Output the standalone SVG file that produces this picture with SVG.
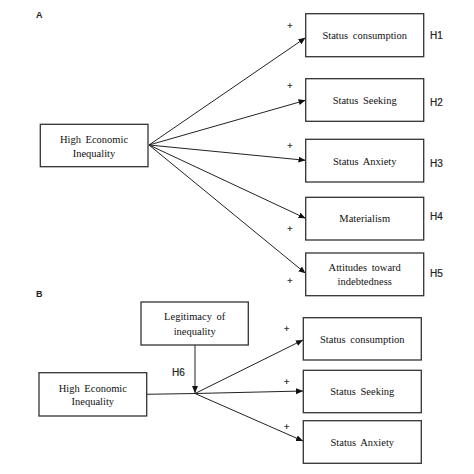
<svg xmlns="http://www.w3.org/2000/svg" width="474" height="474" viewBox="0 0 474 474">
<style>
.box{fill:#fff;stroke:#333;stroke-width:1.3}
.t{font-family:"Liberation Serif","Times New Roman",serif;font-size:10.5px;fill:#111;text-anchor:middle;word-spacing:2px}
.h{font-family:"Liberation Sans",Arial,sans-serif;font-size:10px;fill:#222;stroke:#222;stroke-width:0.2}
.p{font-family:"Liberation Sans",Arial,sans-serif;font-size:9px;fill:#222;text-anchor:middle;stroke:#222;stroke-width:0.2}
.lab{font-family:"Liberation Sans",Arial,sans-serif;font-size:9px;font-weight:bold;fill:#222}
.c line{stroke:#222;stroke-width:1}
</style>
<defs>
<marker id="ah" markerUnits="userSpaceOnUse" markerWidth="8" markerHeight="8" refX="7" refY="3" orient="auto">
<path d="M0,0 L7,3 L0,6 z" fill="#111"/>
</marker>
</defs>
<rect width="474" height="474" fill="#fff"/>
<text class="lab" x="36" y="18">A</text>
<text class="lab" x="36" y="297">B</text>
<g id="connectors" class="c">
<line x1="149" y1="145" x2="305.5" y2="37.7" marker-end="url(#ah)"/>
<line x1="149" y1="145" x2="305.5" y2="100.3" marker-end="url(#ah)"/>
<line x1="149" y1="145" x2="305.5" y2="160.3" marker-end="url(#ah)"/>
<line x1="149" y1="145" x2="305.5" y2="218.3" marker-end="url(#ah)"/>
<line x1="149" y1="145" x2="305.5" y2="273.3" marker-end="url(#ah)"/>
<line x1="195" y1="345" x2="195" y2="393" marker-end="url(#ah)"/>
<line x1="146.7" y1="394.3" x2="195" y2="393.5"/>
<line x1="195" y1="393.5" x2="303" y2="340" marker-end="url(#ah)"/>
<line x1="195" y1="393.5" x2="303" y2="391" marker-end="url(#ah)"/>
<line x1="195" y1="393.5" x2="303" y2="441" marker-end="url(#ah)"/>
</g>
<g id="a_hei"><rect class="box" x="40.3" y="124.3" width="107.7" height="42.4"/><text class="t" x="94" y="142.5">High Economic</text><text class="t" x="94" y="156.5">Inequality</text></g>
<g id="a_sc"><rect class="box" x="305.7" y="13.7" width="118" height="43"/><text class="t" x="364.7" y="38.5">Status consumption</text></g>
<g id="a_ss"><rect class="box" x="305.7" y="78.7" width="118" height="42.6"/><text class="t" x="364.7" y="103.5">Status Seeking</text></g>
<g id="a_sa"><rect class="box" x="305.7" y="139.3" width="118" height="42.7"/><text class="t" x="364.7" y="164.5">Status Anxiety</text></g>
<g id="a_mat"><rect class="box" x="305.7" y="197.3" width="118" height="42.7"/><text class="t" x="364.7" y="221.5">Materialism</text></g>
<g id="a_att"><rect class="box" x="305.7" y="253" width="118" height="42.7"/><text class="t" x="364.7" y="271.2">Attitudes toward</text><text class="t" x="364.7" y="285.2">indebtedness</text></g>
<text class="h" x="430" y="38.5">H1</text>
<text class="h" x="430" y="106">H2</text>
<text class="h" x="430" y="166.5">H3</text>
<text class="h" x="430" y="219.5">H4</text>
<text class="h" x="430" y="277">H5</text>
<text class="p" x="290" y="28.5">+</text>
<text class="p" x="290" y="89">+</text>
<text class="p" x="290" y="149">+</text>
<text class="p" x="290" y="232">+</text>
<text class="p" x="290" y="284">+</text>
<g id="b_leg"><rect class="box" x="141" y="302" width="107.3" height="43"/><text class="t" x="194.7" y="320.2">Legitimacy of</text><text class="t" x="194.7" y="334.5">inequality</text></g>
<g id="b_hei"><rect class="box" x="39" y="372.7" width="107.7" height="43.3"/><text class="t" x="92.8" y="391.8">High Economic</text><text class="t" x="92.8" y="405.2">Inequality</text></g>
<g id="b_sc"><rect class="box" x="303.3" y="317.7" width="118" height="42.3"/><text class="t" x="362.3" y="342.5">Status consumption</text></g>
<g id="b_ss"><rect class="box" x="303.3" y="370.3" width="118" height="42.4"/><text class="t" x="362.3" y="394.5">Status Seeking</text></g>
<g id="b_sa"><rect class="box" x="303.3" y="420.7" width="118" height="42.6"/><text class="t" x="362.3" y="445.8">Status Anxiety</text></g>
<text class="h" x="172" y="375.5">H6</text>
<text class="p" x="286.7" y="332">+</text>
<text class="p" x="286.7" y="385">+</text>
<text class="p" x="286.7" y="429.5">+</text>
</svg>
